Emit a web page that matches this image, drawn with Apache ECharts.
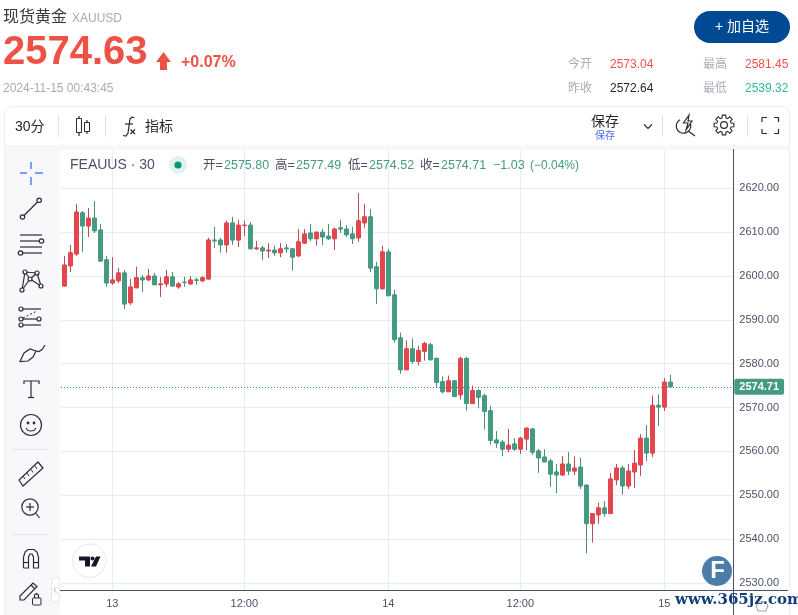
<!DOCTYPE html>
<html><head><meta charset="utf-8">
<script src="https://cdn.jsdelivr.net/npm/echarts@6/dist/echarts.min.js"></script>
<style>html,body{margin:0;padding:0;background:#fff}#c{width:798px;height:615px}</style>
</head><body><div id="c"></div>
<script>
const barSlots = 112;
const tickIndex = [8, 30, 54, 76, 100];
const tickLabels = ['13', '12:00', '14', '12:00', '15'];
const priceTicks = ['2530.00','2540.00','2550.00','2560.00','2570.00','2580.00','2590.00','2600.00','2610.00','2620.00'];
const opens = [2597.7,2602.3,2605.0,2614.4,2611.4,2613.2,2610.5,2603.7,2598.4,2598.9,2600.7,2593.9,2597.3,2599.6,2599.1,2600.0,2598.0,2598.2,2599.8,2597.5,2598.6,2598.2,2599.1,2598.9,2599.3,2608.2,2608.2,2607.1,2612.1,2608.2,2611.5,2611.6,2606.2,2606.4,2605.7,2605.9,2605.3,2606.4,2606.2,2604.6,2607.5,2609.8,2608.5,2610.0,2609.1,2608.5,2611.0,2610.7,2609.6,2608.7,2612.1,2613.5,2602.1,2597.1,2605.5,2595.7,2585.9,2578.6,2583.4,2580.5,2582.8,2584.3,2581.2,2575.9,2573.6,2576.1,2572.9,2581.2,2570.9,2573.9,2572.7,2569.3,2562.6,2562.1,2560.5,2561.7,2560.5,2562.8,2565.1,2560.1,2558.7,2557.8,2555.3,2554.6,2557.1,2555.5,2556.4,2552.3,2543.5,2545.5,2547.1,2545.8,2553.5,2556.2,2552.1,2555.3,2556.9,2563.0,2559.6,2570.5,2570.1,2575.80];
const highs = [2604.6,2607.1,2616.4,2614.8,2615.5,2617.1,2611.9,2604.6,2604.3,2601.8,2601.4,2599.3,2602.1,2600.2,2601.6,2600.7,2599.8,2601.4,2600.9,2598.6,2599.8,2600.0,2599.6,2600.0,2608.7,2611.2,2608.7,2612.6,2613.5,2612.8,2612.6,2612.3,2608.0,2606.9,2607.5,2606.9,2607.5,2607.3,2606.4,2610.7,2610.7,2611.9,2610.0,2610.7,2611.9,2611.0,2612.8,2611.6,2611.2,2618.9,2616.4,2615.3,2603.2,2606.9,2606.2,2596.9,2587.1,2585.3,2585.7,2584.1,2585.0,2584.8,2581.4,2577.1,2577.3,2576.1,2581.6,2581.6,2575.0,2574.1,2573.2,2570.4,2564.6,2562.6,2565.1,2563.0,2563.3,2565.3,2565.3,2560.5,2560.5,2558.3,2557.1,2558.9,2559.8,2558.9,2558.5,2552.3,2545.8,2548.3,2548.7,2555.1,2557.1,2556.7,2557.1,2560.3,2563.9,2566.0,2572.8,2573.0,2576.7,2577.49];
const lows = [2597.7,2600.9,2604.6,2605.5,2608.9,2609.8,2603.2,2597.5,2598.0,2598.4,2592.5,2593.4,2597.3,2596.4,2598.9,2598.0,2595.2,2597.5,2597.7,2597.1,2597.5,2598.0,2598.0,2598.6,2599.3,2606.4,2605.3,2605.3,2607.1,2606.6,2609.1,2606.2,2605.9,2603.7,2604.1,2604.6,2604.3,2605.3,2601.2,2604.3,2607.3,2608.0,2606.9,2607.1,2608.2,2605.9,2609.8,2608.9,2607.3,2607.8,2611.0,2600.9,2593.6,2596.9,2595.5,2584.8,2577.7,2578.6,2580.0,2579.6,2580.7,2580.7,2574.5,2573.2,2573.6,2572.5,2571.8,2569.3,2570.9,2569.8,2565.0,2561.5,2560.8,2558.9,2559.8,2560.1,2559.4,2560.3,2559.2,2555.1,2557.6,2551.9,2550.5,2554.4,2554.6,2554.6,2551.4,2536.7,2539.2,2543.5,2545.1,2545.8,2552.3,2550.1,2551.4,2551.7,2554.4,2557.8,2558.7,2565.8,2569.2,2574.52];
const closes = [2602.5,2605.3,2614.6,2611.4,2613.2,2610.3,2603.4,2598.4,2599.1,2600.7,2593.6,2597.5,2599.6,2599.1,2600.0,2598.0,2598.2,2599.8,2597.7,2598.2,2598.5,2599.1,2599.0,2599.6,2608.2,2608.0,2607.1,2612.1,2608.2,2611.6,2611.6,2606.2,2606.4,2605.7,2605.9,2605.3,2606.2,2606.2,2604.3,2607.8,2609.6,2608.5,2610.0,2608.9,2608.5,2610.7,2610.7,2609.4,2608.5,2612.6,2613.5,2601.8,2597.1,2605.5,2595.5,2585.5,2578.6,2583.4,2580.5,2583.0,2584.6,2580.9,2575.7,2573.6,2576.1,2572.5,2581.2,2570.9,2573.9,2572.3,2569.1,2562.5,2561.9,2560.5,2561.4,2560.5,2563.0,2565.3,2559.8,2558.5,2557.6,2554.8,2554.6,2557.1,2555.5,2556.2,2552.1,2543.5,2545.8,2547.1,2545.8,2553.7,2556.2,2552.1,2555.5,2557.3,2563.0,2559.6,2570.5,2570.1,2575.8,2574.71];
const lastPrice = 2574.71;
const legendValues = ['2575.80', '2577.49', '2574.52', '2574.71', '−1.03', '(−0.04%)'];

const categories = Array.from({length: barSlots}, (_, i) => {
  const k = tickIndex.indexOf(i);
  return k >= 0 ? tickLabels[k] : '';
});
const fullBars = opens.map((o, i) => [o, closes[i], lows[i], highs[i]]);
const bodyBars = opens.map((o, i) => [o, closes[i], Math.min(o, closes[i]), Math.max(o, closes[i])]);

const FONT = '"Liberation Sans","Noto Sans CJK SC",sans-serif';
const RED = '#e5464d', GREEN = '#459a84', RED_W = '#b94c54', GREEN_W = '#4b9068';
const INK = '#2a2d35', AX = '#4a5270';

const g = [];
const T = (x, y, text, size, fill, opt) => g.push({type:'text', x, y, z:20, silent:true, style:Object.assign({
  text, fill, font:`${(opt&&opt.weight)||'normal'} ${size}px ${FONT}`, textAlign:(opt&&opt.align)||'left', textVerticalAlign:'middle'
}, opt&&opt.style)});
const R = (x, y, width, height, fill, stroke, r, z) => g.push({type:'rect', z:z==null?1:z, silent:true,
  shape:{x, y, width, height, r:r||0}, style:{fill:fill||'none', stroke:stroke||'none', lineWidth:1}});
const P = (pts, color, w, dash) => g.push({type:'polyline', z:20, silent:true, shape:{points:pts},
  style:{fill:'none', stroke:color||INK, lineWidth:w||1.2, lineDash:dash||null}});
const PG = (pts, fill, stroke, w) => g.push({type:'polygon', z:20, silent:true, shape:{points:pts},
  style:{fill:fill||'none', stroke:stroke!==undefined?(stroke||'none'):(fill?'none':INK), lineWidth:w||1.2}});
const C = (cx, cy, r, stroke, fill, w, z) => g.push({type:'circle', z:z==null?20:z, silent:true, shape:{cx, cy, r},
  style:{fill:fill||'none', stroke:stroke!==undefined?(stroke||'none'):INK, lineWidth:w||1.2}});
const arcPts = (cx, cy, r, a0, a1) => { const o = []; for (let k = 0; k <= 24; k++) { const a = a0 + (a1-a0)*k/24; o.push([cx+r*Math.cos(a), cy+r*Math.sin(a)]); } return o; };

// header
T(3, 18, '现货黄金', 16, '#3a3a3a');
T(72, 18.5, 'XAUUSD', 12, '#a6a9b6');
T(3, 53, '2574.63', 40, '#ee5145', {weight:'bold'});
PG([[163.5,52],[171,62],[167,62],[167,70],[160,70],[160,62],[156,62]], '#ee5145');
T(181, 62.5, '+0.07%', 16, '#ee5145', {weight:'bold'});
T(3, 89, '2024-11-15 00:43:45', 12, '#a8abb5');
R(694, 11, 96, 32, '#004a94', null, 16, 5);
T(742, 27, '+ 加自选', 14, '#ffffff', {align:'center'});
T(568, 65, '今开', 12, '#a9acb7');  T(610, 65, '2573.04', 12, '#f4504a');
T(703, 65, '最高', 12, '#a9acb7');  T(745, 65, '2581.45', 12, '#f4504a');
T(568, 89, '昨收', 12, '#a9acb7');  T(610, 89, '2572.64', 12, '#25272e');
T(703, 89, '最低', 12, '#a9acb7');  T(745, 89, '2539.32', 12, '#2db99a');

// frame, toolbar, sidebar
R(4.5, 106.5, 785, 520, '#ffffff', '#eeeef0', 7, 0);
R(5, 145, 784, 5, '#f7f7fa', null, 0, 1);
R(5, 150, 55, 470, '#f8f8fb', null, 0, 1);
T(15, 127, '30分', 14, '#25272e');
[58.5, 105.5, 662.5, 747.5].forEach(x => P([[x,115],[x,137]], '#e0e3eb', 1));
R(76.5, 118.5, 5, 14, 'none', INK, 0, 20); P([[79,116],[79,118.5]]); P([[79,132.5],[79,136]]);
R(84.5, 122.5, 5, 9, 'none', INK, 0, 20); P([[87,120],[87,122.5]]); P([[87,131.5],[87,134]]);
P([[134.5,118],[132,117],[130,119],[128,133],[126,136],[123,135.5]]);
P([[125,124],[133,124]]); P([[130.5,129.5],[135,134]]); P([[135,129.5],[130.5,134]]);
T(145, 127, '指标', 14, '#25272e');
T(591, 122.5, '保存', 14, '#25272e');
T(595, 136, '保存', 10, '#4f6cff');
P([[644,124.5],[648,128.5],[652,124.5]], INK, 1.2);
P(arcPts(683.5, 126, 7.2, -1.0, 4.2));
P([[688.6,131.2],[695,136]]);
PG([[689,115],[683.5,123],[688,123],[686,130],[692,121],[688,121]], '#ffffff', INK);
(function gear(cx, cy){
  const pts = [], n = 8;
  for (let i = 0; i < n; i++) {
    const a = i * 2 * Math.PI / n;
    [[-0.17,10],[0.17,10]].forEach(([d,r]) => pts.push([cx+r*Math.cos(a+d), cy+r*Math.sin(a+d)]));
    [[0.26,7.4],[0.52,7.4]].forEach(([d,r]) => pts.push([cx+r*Math.cos(a+d), cy+r*Math.sin(a+d)]));
  }
  PG(pts, null, INK, 1.1); C(cx, cy, 3.4);
})(724, 125);
P([[762,122],[762,117.5],[767,117.5]]); P([[774,117.5],[778.5,117.5],[778.5,122]]);
P([[762,129],[762,133.5],[767,133.5]]); P([[774,133.5],[778.5,133.5],[778.5,129]]);

// drawing tools
const BL = '#2962ff';
P([[20,173],[27,173]],BL); P([[35,173],[43,173]],BL); P([[31,162],[31,169]],BL); P([[31,177],[31,185]],BL);
P([[24,215.5],[37.5,202]]); C(22.5,217,2.2); C(39.2,200.3,2.2);
P([[20,235],[42,235]]); P([[20,241],[39,241]]); C(41.5,241,2.2); P([[20,247],[42,247]]); P([[23,253],[42,253]]); C(20.5,253,2.2);
P([[25,272],[22,290]]); P([[25,272],[30,279]]); P([[22,290],[30,279]]); P([[30,279],[37,273]]); P([[37,273],[41,286]]); P([[30,279],[41,286]]); P([[25,272],[37,273]]);
[[25,272],[37,273],[30,279],[22,290],[41,286]].forEach(c => C(c[0],c[1],2,INK,'#f8f8fb'));
P([[23,309],[41,309]]); C(21,309,2); P([[23,318],[37,311]],INK,1,[2,2]); C(21,319,2); P([[23,319],[37,319]]); C(39,319,2); P([[23,325],[41,325]]); C(21,325,2);
PG([[20,361.5],[24,353],[30,349],[36,351],[33,357],[28,361]]); P([[36,351],[39,351.5],[42,349.5],[45,345]]);
P([[24,384],[24,381],[39,381],[39,384]]); P([[31,381],[31,397]]); P([[28,397.5],[34,397.5]]);
C(31,425,10.5); C(28,423,0.8,INK,INK); C(34,423,0.8,INK,INK); P([[26,428],[28,430.5],[31,431],[34,430.5],[36,428]]);
P([[13,449.5],[49,449.5]],'#e0e3eb',1);
PG([[19,480],[23,486],[43,468],[38,462]]);
P([[23,476],[25,479]],INK,1); P([[27,473],[29,476]],INK,1); P([[31,469.5],[33,472.5]],INK,1); P([[35,466],[37,469]],INK,1);
C(30,507,8.2); P([[36,513.5],[39.5,518]]); P([[26,507],[34,507]]); P([[30,503],[30,511]]);
P([[13,534.5],[49,534.5]],'#e0e3eb',1);
P([[23.5,568],[23.5,557],[25,552],[28,549.5],[34,549.5],[37,552],[38.5,557],[38.5,568],[33.5,568],[33.5,557],[32,554],[30,554],[28.5,557],[28.5,568],[23.5,568]]);
P([[23.5,562.5],[28.5,562.5]]); P([[33.5,562.5],[38.5,562.5]]);
PG([[20,596],[33,583],[37,586.5],[24,600],[20,600]]); P([[31,585],[34.5,588.5]]);
R(32.5,598,8.5,7,'#f8f8fb',INK,1,20); P([[34.5,598],[34.5,595],[36.5,593.5],[38.5,595],[38.5,598]]);
R(51.5,577.5,7.5,25,'#ffffff','#e6e6ef',3,20); P([[56.5,587],[54,590],[56.5,593]],'#b0b3c0',1);

// chart legend row
T(70, 165, 'FEAUUS · 30', 14, '#4a5068');
C(178,165,9,null,'#e0f2ee'); C(178,165,3.6,null,'#00997a');
[['开=',203,224,0],['高=',275,296,1],['低=',348,369,2],['收=',420,441,3]].forEach(([k,x0,x1,i]) => {
  T(x0,166,k,12.5,'#4a5068'); T(x1,166,legendValues[i],12.5,GREEN);
});
T(493,166,legendValues[4],12.5,GREEN); T(530,166,legendValues[5],12,GREEN);

// axes
P([[733.5,149],[733.5,615]],AX,1);
P([[60,590.5],[788,590.5]],AX,1);

// TradingView mark
C(89.3,560.7,16.7,'#e6e6ef','#ffffff',1,15);
PG([[79,556.5],[90,556.5],[90,566.5],[85,566.5],[85,560.5],[79,560.5]],'#131722');
C(92.5,558.4,2,null,'#131722');
PG([[96,556.5],[100.5,556.5],[96,566.5],[91,566.5]],'#131722');

// watermark
C(717,571,15,null,'#4a7ea8');
T(717.5,571.5,'F',24,'#ffffff',{weight:'bold',align:'center'});
g.push({type:'text',x:675,y:600,z:25,silent:true,style:{text:'www.365jz.com',fill:'#123f7c',font:'bold 15px "DejaVu Serif",serif',textAlign:'left',textVerticalAlign:'middle'}});
PG([[762,601],[768,605],[766,611],[758,611],[756,605]],null,'#9a9da8',1);

// last-price dotted line, placed once the scale is known
g.push({id:'lastLine', type:'line', z:2, silent:true, shape:{x1:61,y1:0,x2:733,y2:0}, style:{stroke:'#3f9079', lineWidth:1, lineDash:[1,2]}});

const chart = echarts.init(document.getElementById('c'), null, {renderer:'canvas'});
chart.setOption({
  animation:false,
  backgroundColor:'#ffffff',
  graphic:{elements:g},
  grid:{left:61.3, width:672, top:150, height:440.3, containLabel:false},
  xAxis:{type:'category', data:categories, boundaryGap:true,
    axisLine:{show:false}, axisTick:{show:false},
    axisLabel:{interval:(i,v)=>v!=='', margin:8, color:'#4a5268', fontSize:11, fontFamily:FONT, hideOverlap:false},
    splitLine:{show:true, alignWithLabel:true, interval:(i,v)=>v!=='', lineStyle:{color:'#e3edf4', width:1}}},
  yAxis:{type:'value', position:'right', min:2528.3, max:2628.74, minInterval:10, maxInterval:10, scale:true,
    axisLine:{show:false}, axisTick:{show:false},
    axisLabel:{margin:6, color:'#4a5268', fontSize:11, fontFamily:FONT, padding:[4,0,0,0],
      formatter:v => priceTicks.includes(v.toFixed(2)) ? v.toFixed(2) : ''},
    splitLine:{show:true, showMinLine:false, showMaxLine:false, lineStyle:{color:'#e3edf4', width:1}}},
  series:[
    {type:'candlestick', name:'wicks', data:fullBars, barWidth:3, silent:true, z:3,
      itemStyle:{color:RED_W,color0:GREEN_W,borderColor:RED_W,borderColor0:GREEN_W,borderColorDoji:GREEN_W,borderWidth:1},
      markLine:{silent:true, symbol:'none', animation:false, precision:2,
        lineStyle:{color:'transparent', width:1},
        label:{show:true, position:'end', formatter:()=>lastPrice.toFixed(2), color:'#ffffff', fontSize:11, fontWeight:'bold', fontFamily:FONT,
          backgroundColor:GREEN, padding:[2,5,3,5], borderRadius:2, distance:1},
        data:[{yAxis:lastPrice}]}},
    {type:'candlestick', name:'bodies', data:bodyBars, barWidth:4, silent:true, z:4,
      itemStyle:{color:RED,color0:GREEN,borderColor:RED,borderColor0:GREEN,borderColorDoji:GREEN,borderWidth:1}}
  ]
});
const lastY = Math.round(chart.convertToPixel({yAxisIndex:0}, lastPrice)) + 0.5;
chart.setOption({graphic:{elements:[{id:'lastLine', shape:{x1:61,y1:lastY,x2:733,y2:lastY}}]}});
</script></body></html>
